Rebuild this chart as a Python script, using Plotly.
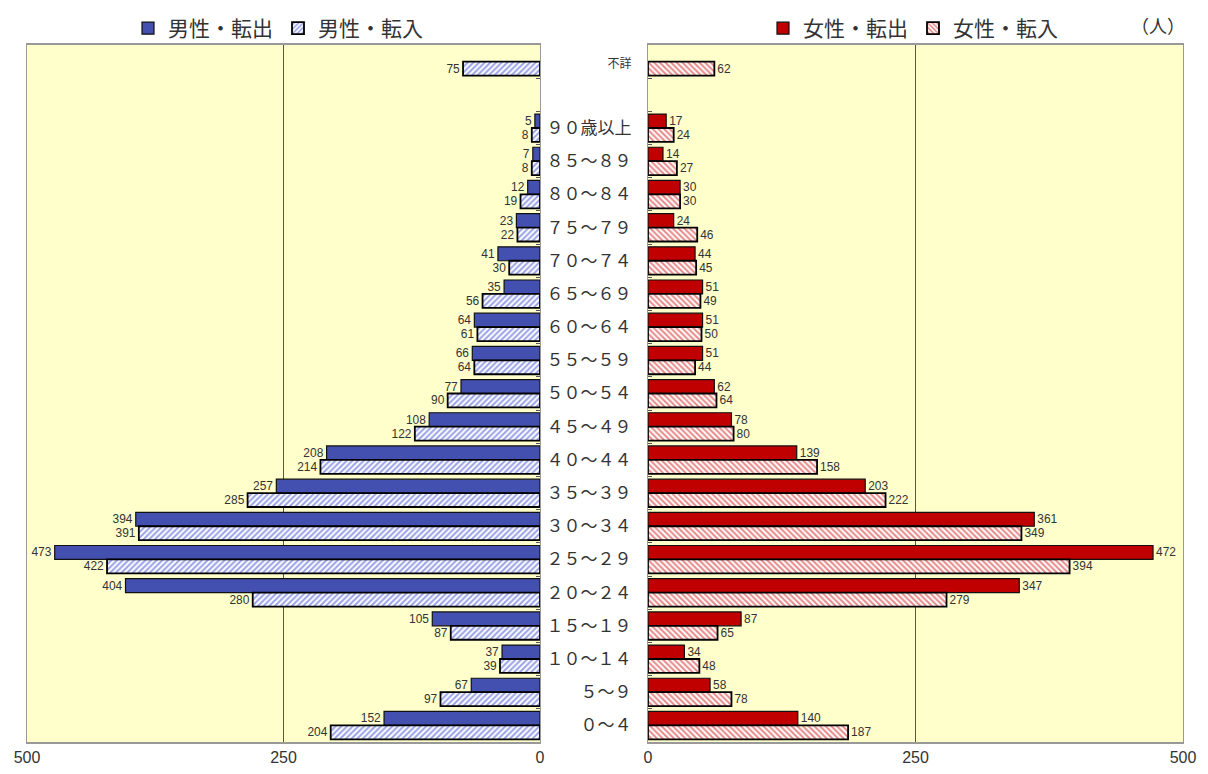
import plotly.graph_objects as go

ages = ["不詳", " ", "９０歳以上", "８５～８９", "８０～８４", "７５～７９", "７０～７４",
        "６５～６９", "６０～６４", "５５～５９", "５０～５４", "４５～４９", "４０～４４",
        "３５～３９", "３０～３４", "２５～２９", "２０～２４", "１５～１９", "１０～１４",
        "５～９", "０～４"]

male_out = [None, None, 5, 7, 12, 23, 41, 35, 64, 66, 77, 108, 208, 257, 394, 473, 404, 105, 37, 67, 152]
male_in = [75, None, 8, 8, 19, 22, 30, 56, 61, 64, 90, 122, 214, 285, 391, 422, 280, 87, 39, 97, 204]
female_out = [None, None, 17, 14, 30, 24, 44, 51, 51, 51, 62, 78, 139, 203, 361, 472, 347, 87, 34, 58, 140]
female_in = [62, None, 24, 27, 30, 46, 45, 49, 50, 44, 64, 80, 158, 222, 349, 394, 279, 65, 48, 78, 187]

tick_vals = [0, 250, 500]

BLUE = "#4350AF"
RED = "#C00000"
LABEL_FONT = dict(family="Liberation Sans", size=12, color="#333333")

# page body has an 8px margin, so figure pixel = screen pixel - 8
W, H = 1208, 774
OFF = 8
TOP, BOTTOM = 45 - OFF, 742 - OFF


def labels(values):
    return ["" if v is None else str(v) for v in values]


fig = go.Figure()

fig.add_trace(go.Bar(
    y=ages, x=male_out, name="男性・転出", orientation="h",
    marker=dict(color=BLUE, line=dict(color="#111111", width=1.2)),
    text=labels(male_out), textposition="outside", textfont=LABEL_FONT,
    cliponaxis=False, xaxis="x", yaxis="y", legend="legend"
))
fig.add_trace(go.Bar(
    y=ages, x=male_in, name="男性・転入", orientation="h",
    marker=dict(color="white", line=dict(color="#000000", width=1.8),
                pattern=dict(shape="/", fgcolor="#3344CC", bgcolor="white",
                             size=4, solidity=0.5)),
    text=labels(male_in), textposition="outside", textfont=LABEL_FONT,
    cliponaxis=False, xaxis="x", yaxis="y", legend="legend"
))
fig.add_trace(go.Bar(
    y=ages, x=female_out, name="女性・転出", orientation="h",
    marker=dict(color=RED, line=dict(color="#111111", width=1.2)),
    text=labels(female_out), textposition="outside", textfont=LABEL_FONT,
    cliponaxis=False, xaxis="x2", yaxis="y2", legend="legend2"
))
fig.add_trace(go.Bar(
    y=ages, x=female_in, name="女性・転入", orientation="h",
    marker=dict(color="white", line=dict(color="#000000", width=1.8),
                pattern=dict(shape="\\", fgcolor="#CC1111", bgcolor="white",
                             size=4, solidity=0.5)),
    text=labels(female_in), textposition="outside", textfont=LABEL_FONT,
    cliponaxis=False, xaxis="x2", yaxis="y2", legend="legend2"
))

axis_common = dict(
    tickvals=tick_vals, ticktext=[str(v) for v in tick_vals],
    showgrid=True, gridcolor="#555555", gridwidth=1,
    zeroline=False, showline=True, linecolor="#999999", linewidth=1.5,
    mirror=True, ticks="", tickfont=dict(family="Liberation Sans", size=16, color="#333333"),
    fixedrange=True, automargin=False,
)

legend_common = dict(
    orientation="h", xref="container", yref="container", yanchor="top",
    xanchor="center", y=1.0, font=dict(size=21, color="#333333"),
    itemwidth=30, bgcolor="rgba(0,0,0,0)", borderwidth=0,
)

fig.update_layout(
    width=W, height=H,
    margin=dict(l=0, r=0, t=TOP, b=H - BOTTOM, autoexpand=False),
    paper_bgcolor="white",
    plot_bgcolor="#FFFFCC",
    barmode="group",
    bargap=0.16,
    bargroupgap=0,
    font=dict(family="Noto Sans CJK JP", color="#333333"),
    xaxis=dict(axis_common, domain=[(27 - OFF) / W, (540 - OFF) / W], range=[500, 0]),
    xaxis2=dict(axis_common, domain=[(648 - OFF) / W, (1183 - OFF) / W], range=[0, 500]),
    yaxis=dict(
        categoryorder="array", categoryarray=ages, autorange="reversed",
        side="right", showticklabels=False, showgrid=False, automargin=False,
        showline=True, linecolor="#999999", mirror=True,
        ticks="inside", tickson="boundaries", ticklen=4, tickcolor="#555555",
    ),
    yaxis2=dict(
        categoryorder="array", categoryarray=ages, autorange="reversed",
        anchor="x2", side="left", showgrid=False, automargin=False,
        showline=True, linecolor="#999999", mirror=True,
        ticks="inside", tickson="boundaries", ticklen=4, tickcolor="#555555",
        tickmode="array", tickvals=ages,
        ticktext=["<span style='font-size:12px'>不詳</span>"] + ages[1:],
        tickfont=dict(family="Noto Sans CJK JP", size=17, color="#333333"),
        ticklabelstandoff=12,
    ),
    legend=dict(legend_common, x=(278 - OFF) / W),
    legend2=dict(legend_common, x=(913 - OFF) / W),
    annotations=[dict(
        text="（人）", xref="paper", yref="paper", x=(1158 - OFF) / W,
        y=1 + (45 - 25) / (BOTTOM - TOP), xanchor="center", yanchor="middle",
        showarrow=False, font=dict(size=18, color="#333333"),
    )],
)

fig.write_html("out.html")
